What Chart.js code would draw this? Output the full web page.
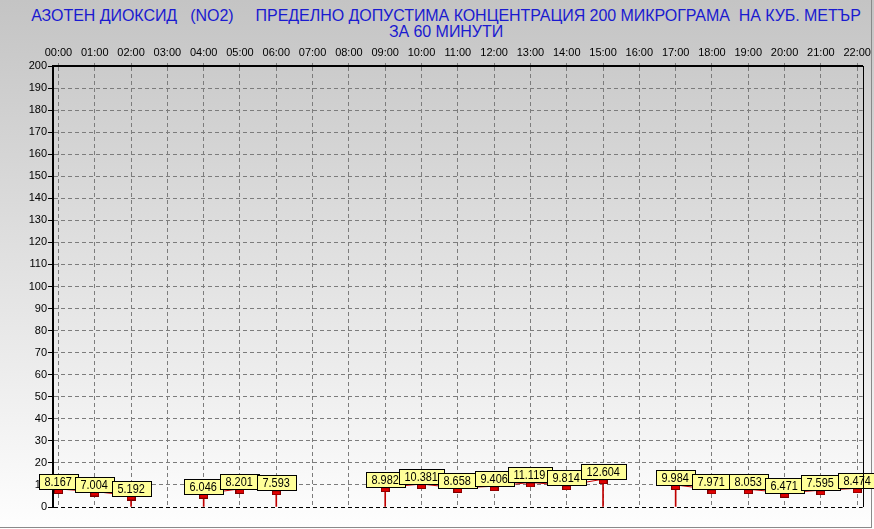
<!DOCTYPE html>
<html>
<head>
<meta charset="utf-8">
<script src="https://cdn.jsdelivr.net/npm/chart.js@4.4.1/dist/chart.umd.min.js"></script>
<style>
    html, body { margin: 0; padding: 0; overflow: hidden; }
    body {
        width: 874px; height: 529px; position: relative;
        background: linear-gradient(#c4c4c4, #fefefe);
        font-family: Arial, "Liberation Sans", sans-serif;
    }
    #frame {
        position: absolute; left: 0; top: 0; width: 871px; height: 527px;
        border-right: 1px solid #8a8a8a; border-bottom: 1px solid #8a8a8a;
    }
    #title {
        position: absolute; top: 8px; left: 0; width: 892px;
        text-align: center; color: #1a1ad0; font-size: 16px; line-height: 16px;
        white-space: pre; letter-spacing: -0.05px;
    }
    #wrap { position: absolute; left: 0; top: 0; width: 874px; height: 529px; }
</style>
</head>
<body>
<div id="frame"></div>
<div id="title">АЗОТЕН ДИОКСИД   (NO2)     ПРЕДЕЛНО ДОПУСТИМА КОНЦЕНТРАЦИЯ 200 МИКРОГРАМА  НА КУБ. МЕТЪР
ЗА 60 МИНУТИ</div>
<div id="wrap"><canvas id="no2Chart"></canvas></div>
<script>
let hours = ['00:00', '01:00', '02:00', '03:00', '04:00', '05:00', '06:00', '07:00', '08:00', '09:00', '10:00', '11:00',
    '12:00', '13:00', '14:00', '15:00', '16:00', '17:00', '18:00', '19:00', '20:00', '21:00', '22:00'];
let values = [8.167, 7.004, 5.192, null, 6.046, 8.201, 7.593, null, null, 8.982, 10.381, 8.658,
    9.406, 11.119, 9.814, 12.604, null, 9.984, 7.971, 8.053, 6.471, 7.595, 8.474];
let yMin = 0, yMax = 200, yStep = 10;

Chart.defaults.font.family = 'Arial, "Liberation Sans", sans-serif';

// red marker hanging just below the value
let marker = document.createElement('canvas');
marker.width = 9;
marker.height = 10;
let m = marker.getContext('2d');
m.fillStyle = '#7a0000';
m.fillRect(0, 5, 9, 5);
m.fillStyle = '#e00000';
m.fillRect(1, 6, 7, 3);

// points next to a gap get a drop line to zero
let drops = [];
values.forEach((v, i) => {
    if (v === null || i === 0 || i === values.length - 1) return;
    if (values[i - 1] === null || values[i + 1] === null) drops.push({ x: i, y: v });
});

let valueBoxes = {
    id: 'valueBoxes',
    afterDatasetsDraw(chart) {
        let ctx = chart.ctx;
        let meta = chart.getDatasetMeta(1);
        ctx.save();
        ctx.font = '13px Arial, "Liberation Sans", sans-serif';
        ctx.textAlign = 'left';
        ctx.textBaseline = 'middle';
        meta.data.forEach((pt, i) => {
            if (values[i] === null) return;
            let text = values[i].toFixed(3);
            // the original uses a narrow font, so squeeze the text a little
            let tw = ctx.measureText(text).width * 0.84;
            let w = Math.round(tw + 12);
            let x = Math.round(pt.x - w / 2) + 0.5;
            let y = Math.round(pt.y) - 15 + 0.5;
            ctx.fillStyle = '#ffff99';
            ctx.fillRect(x, y, w, 15);
            ctx.strokeStyle = '#000';
            ctx.lineWidth = 1;
            ctx.strokeRect(x, y, w, 15);
            ctx.fillStyle = '#000';
            ctx.fillText(text, x + 5, y + 8, tw);
        });
        ctx.restore();
    },
    afterDraw(chart) {
        let a = chart.chartArea;
        let ctx = chart.ctx;
        ctx.save();
        ctx.strokeStyle = '#000';
        ctx.lineWidth = 1;
        ctx.beginPath();
        ctx.moveTo(Math.round(a.right) + 0.5, a.top);
        ctx.lineTo(Math.round(a.right) + 0.5, a.bottom);
        ctx.stroke();
        ctx.restore();
    }
};

let ctx = document.getElementById('no2Chart').getContext('2d');

let no2Chart = new Chart(ctx, {
    data: {
        datasets: [{
            type: 'bar',
            data: drops,
            backgroundColor: '#c00000',
            barThickness: 1,
            grouped: false,
            order: 2
        }, {
            type: 'line',
            data: values.map((v, i) => ({ x: i, y: v })),
            borderColor: '#c80000',
            borderWidth: 1,
            tension: 0,
            spanGaps: false,
            pointStyle: marker,
            pointRadius: 5,
            order: 1
        }]
    },
    options: {
        responsive: true,
        maintainAspectRatio: false,
        animation: false,
        events: [],
        layout: { padding: { top: 40, right: 8, bottom: 22, left: 0 } },
        plugins: {
            legend: { display: false },
            tooltip: { enabled: false }
        },
        scales: {
            x: {
                type: 'linear',
                position: 'top',
                offset: false,
                min: -0.15,
                max: 22.15,
                afterBuildTicks: scale => { scale.ticks = hours.map((h, i) => ({ value: i })); },
                afterFit: scale => { scale.height = 26; },
                ticks: {
                    callback: v => hours[v],
                    autoSkip: false,
                    maxRotation: 0,
                    color: '#000',
                    font: { size: 11 },
                    padding: 3
                },
                grid: {
                    offset: false,
                    color: '#7c7c7c',
                    tickLength: 3,
                    tickColor: '#7c7c7c',
                    tickBorderDash: []
                },
                border: { display: true, color: '#000', width: 2, dash: [4, 3] }
            },
            y: {
                min: yMin,
                max: yMax,
                afterFit: scale => { scale.width = 53; },
                ticks: {
                    stepSize: yStep,
                    color: '#000',
                    font: { size: 11 },
                    padding: 1
                },
                grid: {
                    color: c => (c.tick && c.tick.value === 0) ? '#000' : '#7c7c7c',
                    tickLength: 5,
                    tickColor: '#000',
                    tickBorderDash: []
                },
                border: { display: true, color: '#000', width: 2, dash: [4, 3] }
            }
        }
    },
    plugins: [valueBoxes]
});
</script>
</body>
</html>
